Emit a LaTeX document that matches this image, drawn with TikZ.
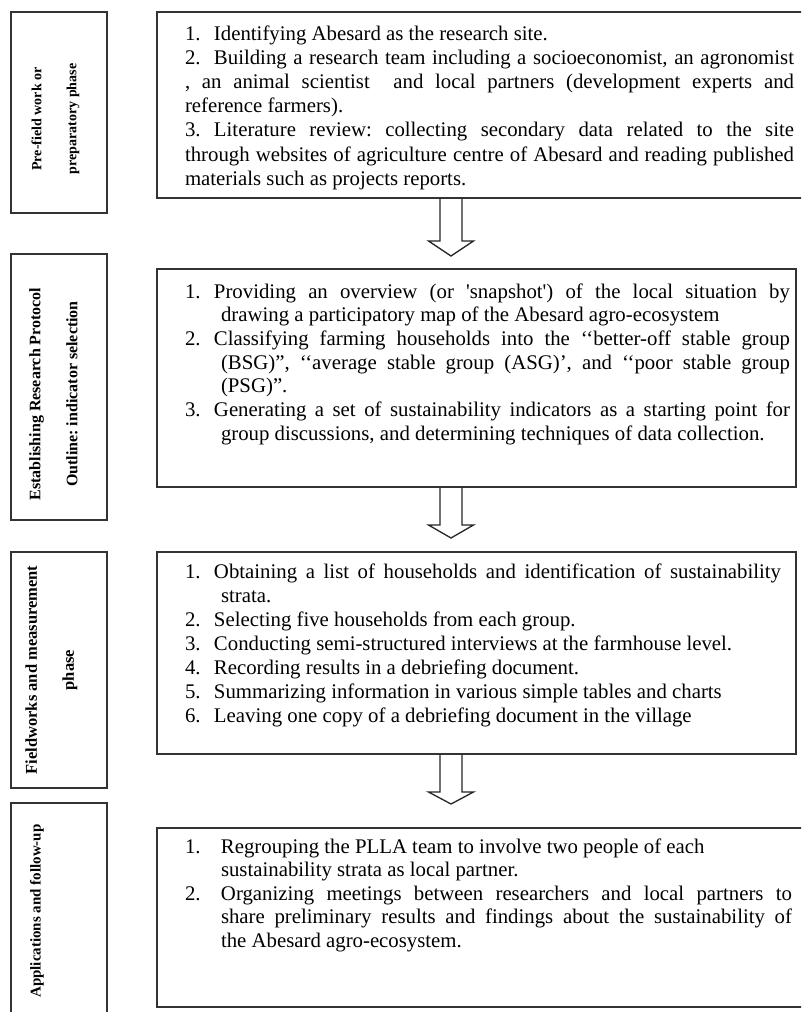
\documentclass[tikz,border=0pt]{standalone}
\usepackage{fontspec}
\setmainfont{Liberation Serif}[Ligatures=TeXOff]
\usetikzlibrary{calc}
\frenchspacing
\tikzset{
  boxline/.style={draw=black!80, line width=1.5pt},
  pbox/.style={boxline, rectangle, inner sep=0pt, outer sep=0pt, anchor=north west},
  body/.style={inner sep=0pt, outer sep=0pt, anchor=base west, text=black},
  lab/.style={rotate=90, inner sep=0pt, align=center, text=black},
  arrowline/.style={draw=black!85, line width=1.3pt, line join=miter},
}
\newcommand{\justline}[2]{\makebox[#1][s]{#2}}
\newcommand{\itemno}[2][29pt]{\makebox[#1][l]{#2}}
\newcommand{\blockarrow}[3]{%
  \draw[arrowline] ($(#1)+(-11,0)$) -- ++(0,#2) -- ++(-11.5,0) -- ++(22.5,#3) -- ++(22.5,-#3) -- ++(-11.5,0) -- ++(0,-#2);}
\begin{document}
\begin{tikzpicture}[x=1pt,y=-1pt]
\useasboundingbox (0,0) rectangle (801,1012);
\clip (0,0) rectangle (801,1012);
\fill[white] (0,0) rectangle (801,1012);

% left phase boxes
\node[pbox, minimum width=96pt, minimum height=201pt] (l1) at (11,12) {};
\node[pbox, minimum width=96pt, minimum height=266pt] (l2) at (11,254) {};
\node[pbox, minimum width=96pt, minimum height=236pt] (l3) at (11,552) {};
\node[pbox, minimum width=96pt, minimum height=220pt] (l4) at (11,803) {};

\node[lab, font=\bfseries\fontsize{14}{35}\selectfont] (lt1) at (55.5,119) {Pre-field work or\\preparatory phase};
\node[lab, font=\bfseries\fontsize{16}{37}\selectfont] (lt2) at (53.5,394) {Establishing Research Protocol\\Outline: indicator selection};
\node[lab, font=\bfseries\fontsize{16.5}{37}\selectfont] (lt3) at (51.5,670) {Fieldworks and measurement\\phase};
\node[lab, font=\bfseries\fontsize{15}{37}\selectfont] (lt4) at (37,911) {Applications and follow-up};

% right content boxes
\node[pbox, minimum width=653pt, minimum height=186pt] (b1) at (157,12) {};
\node[pbox, minimum width=639pt, minimum height=218pt] (b2) at (157,269) {};
\node[pbox, minimum width=639pt, minimum height=202pt] (b3) at (157,552) {};
\node[pbox, minimum width=653pt, minimum height=179pt] (b4) at (157,828) {};

% texts
\node[body] (t1) at (185,40) {\begin{minipage}[t]{609pt}\fontsize{20.8}{24.2}\selectfont\lineskiplimit=-50pt
\itemno{1.}Identifying Abesard as the research site.\par
\justline{609pt}{\itemno{2.}Building a research team including a socioeconomist, an agronomist}\par
\justline{609pt}{, an animal scientist\ \ and local partners (development experts and}\par
reference farmers).\par
\justline{609pt}{\itemno{3.}Literature review: collecting secondary data related to the site}\par
\justline{609pt}{through websites of agriculture centre of Abesard and reading published}\par
materials such as projects reports.\par
\end{minipage}};

\node[body] (t2) at (185,298) {\begin{minipage}[t]{605pt}\fontsize{20.8}{23.7}\selectfont\lineskiplimit=-50pt
\justline{605pt}{\itemno{1.}Providing an overview (or 'snapshot') of the local situation by}\par
\hspace*{36pt}drawing a participatory map of the Abesard agro-ecosystem\par
\justline{605pt}{\itemno{2.}Classifying farming households into the ‘‘better-off stable group}\par
\hspace*{36pt}\justline{569pt}{(BSG)”, ‘‘average stable group (ASG)’, and ‘‘poor stable group}\par
\hspace*{36pt}(PSG)”.\par
\justline{605pt}{\itemno{3.}Generating a set of sustainability indicators as a starting point for}\par
\hspace*{36pt}group discussions, and determining techniques of data collection.\par
\end{minipage}};

\node[body] (t3) at (185,578) {\begin{minipage}[t]{600pt}\fontsize{20.8}{24}\selectfont\lineskiplimit=-50pt
\justline{596pt}{\itemno{1.}Obtaining a list of households and identification of sustainability}\par
\hspace*{36pt}strata.\par
\itemno{2.}Selecting five households from each group.\par
\itemno{3.}Conducting semi-structured interviews at the farmhouse level.\par
\itemno{4.}Recording results in a debriefing document.\par
\itemno{5.}Summarizing information in various simple tables and charts\par
\itemno{6.}Leaving one copy of a debriefing document in the village\par
\end{minipage}};

\node[body] (t4) at (185,853) {\begin{minipage}[t]{607pt}\fontsize{20.8}{23.5}\selectfont\lineskiplimit=-50pt
\itemno[36pt]{1.}Regrouping the PLLA team to involve two people of each\par
\hspace*{36pt}sustainability strata as local partner.\par
\justline{607pt}{\itemno[36pt]{2.}Organizing meetings between researchers and local partners to}\par
\hspace*{36pt}\justline{571pt}{share preliminary results and findings about the sustainability of}\par
\hspace*{36pt}the Abesard agro-ecosystem.\par
\end{minipage}};

% block arrows between the boxes
\coordinate (a1) at (451,0 |- b1.south);
\coordinate (a2) at (451,0 |- b2.south);
\coordinate (a3) at (451,0 |- b3.south);
\blockarrow{a1}{43}{15}
\blockarrow{a2}{38}{13}
\blockarrow{a3}{38}{12}
\end{tikzpicture}
\end{document}
